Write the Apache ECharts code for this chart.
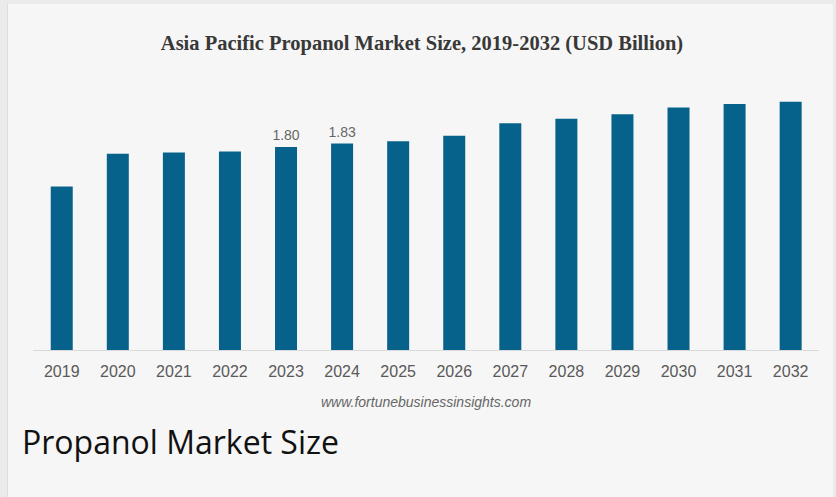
<!DOCTYPE html>
<html>
<head>
<meta charset="utf-8">
<script src="https://cdn.jsdelivr.net/npm/echarts@6/dist/echarts.min.js"></script>
<style>
  html, body { margin: 0; padding: 0; width: 836px; height: 497px; background: #ebebeb; overflow: hidden; }
  #panel { position: absolute; left: 7px; top: 4px; width: 826px; height: 493px; background: #f6f6f6; border-left: 1px solid #dddddd; box-sizing: border-box; }
  #chart { position: absolute; left: 0; top: 0; width: 836px; height: 497px; }
</style>
</head>
<body>
<div id="panel"></div>
<div id="chart"></div>
<script>
const years = ['2019','2020','2021','2022','2023','2024','2025','2026','2027','2028','2029','2030','2031','2032'];
const marketSize = [1.45, 1.74, 1.75, 1.76, 1.80, 1.83, 1.85, 1.90, 2.01, 2.05, 2.09, 2.15, 2.18, 2.20];
const labeledYears = ['2023', '2024'];
const titleText = 'Asia Pacific Propanol Market Size, 2019-2032 (USD Billion)';
const sourceText = 'www.fortunebusinessinsights.com';
const captionText = 'Propanol Market Size';

const chart = echarts.init(document.getElementById('chart'), null, { renderer: 'svg' });
const seriesData = years.map((y, i) => ({
  value: marketSize[i],
  label: { show: labeledYears.includes(y) }
}));

chart.setOption({
  animation: false,
  grid: { left: 33.7, right: 17.3, top: 68, bottom: 147, containLabel: false },
  xAxis: {
    type: 'category',
    data: years,
    axisLine: { lineStyle: { color: '#d9d9d9', width: 1 } },
    axisTick: { show: false },
    axisLabel: { color: '#595959', fontFamily: 'Liberation Sans, Arial, sans-serif', fontSize: 16, margin: 13 }
  },
  yAxis: {
    type: 'value',
    min: 0, max: 2.5,
    show: false,
    splitLine: { show: false }
  },
  series: [{
    type: 'bar',
    data: seriesData,
    barWidth: 22,
    itemStyle: { color: '#06628a' },
    label: {
      position: 'top',
      distance: 5,
      color: '#666666',
      fontFamily: 'Liberation Sans, Arial, sans-serif',
      fontSize: 14,
      formatter: p => p.value.toFixed(2)
    }
  }],
  graphic: [
    {
      type: 'text', x: 422, y: 43,
      style: { text: titleText, fill: '#383838', align: 'center', verticalAlign: 'middle', font: 'bold 20.5px "Liberation Serif", "Times New Roman", serif' }
    },
    {
      type: 'text', x: 426, y: 402,
      style: { text: sourceText, fill: '#666666', align: 'center', verticalAlign: 'middle', font: 'italic 14px "Liberation Sans", Arial, sans-serif' }
    },
    {
      type: 'text', x: 22, y: 441,
      style: { text: captionText, fill: '#111111', align: 'left', verticalAlign: 'middle', font: '32px "Open Sans", sans-serif' }
    }
  ]
});
</script>
</body>
</html>
